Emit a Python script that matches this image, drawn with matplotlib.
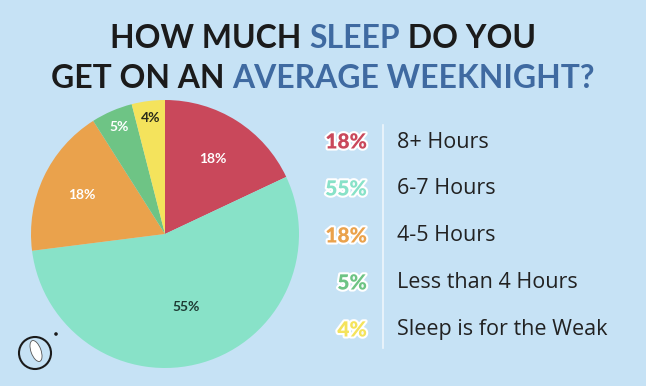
import matplotlib
matplotlib.use("Agg")
import matplotlib.pyplot as plt
import matplotlib.patheffects as pe
from matplotlib.patches import Circle, Ellipse
import numpy as np

# Data
categories = ["8+ Hours", "6-7 Hours", "4-5 Hours", "Less than 4 Hours", "Sleep is for the Weak"]
shares = [18, 55, 18, 5, 4]
colors = ["#c9485b", "#88e2c8", "#eaa24c", "#6ec485", "#f4e35c"]
inner_label_colors = ["white", "#1d3b33", "white", "white", "#2a2a1a"]
inner_label_radius = [0.66, 0.57, 0.69, 0.87, 0.87]

title_lines = [
    [("HOW MUCH ", "#1b1b1b"), ("SLEEP", "#3f6aa1"), (" DO YOU", "#1b1b1b")],
    [("GET ON AN ", "#1b1b1b"), ("AVERAGE WEEKNIGHT?", "#3f6aa1")],
]

BG = "#c6e2f5"
W, H = 646, 386
fig = plt.figure(figsize=(W / 100, H / 100), dpi=100, facecolor=BG)

# Pie
cx, cy, R = 165, 234, 134
ax = fig.add_axes([(cx - R) / W, (H - cy - R) / H, 2 * R / W, 2 * R / H])
ax.set_facecolor(BG)
wedges, _ = ax.pie(shares, colors=colors, startangle=90, counterclock=False,
                   radius=1, wedgeprops=dict(linewidth=0))
ax.set_xlim(-1, 1)
ax.set_ylim(-1, 1)
ax.axis("off")

for w, val, c, r in zip(wedges, shares, inner_label_colors, inner_label_radius):
    ang = np.deg2rad((w.theta1 + w.theta2) / 2)
    ax.text(r * np.cos(ang), r * np.sin(ang), f"{val}%", ha="center", va="center",
            color=c, fontsize=10, fontweight="bold", family="Lato")

# Title with mixed colours, sized so the second line is ~542 px wide
renderer = fig.canvas.get_renderer()
title_y = [38, 78]
tsize = 24
probe = fig.text(0, 0, "".join(s for s, _ in title_lines[1]), fontsize=tsize,
                 fontweight="bold", family="Lato")
tsize = tsize * 542 / probe.get_window_extent(renderer).width
probe.remove()
for line, y in zip(title_lines, title_y):
    pieces = []
    for s, c in line:
        t = fig.text(0, 1 - y / H, s, color=c, fontsize=tsize, fontweight="bold",
                     family="Lato", ha="left", va="center")
        pieces.append(t)
    widths = [p.get_window_extent(renderer).width for p in pieces]
    x = (W - sum(widths)) / 2
    for p, wd in zip(pieces, widths):
        p.set_x(x / W)
        x += wd

# Legend
row_y = [142, 189, 236, 283, 330]
for y, cat, val, c in zip(row_y, categories, shares, colors):
    fig.text(367 / W, 1 - y / H, f"{val}%", color=c, fontsize=15, fontweight="heavy",
             family="Lato", ha="right", va="center",
             path_effects=[pe.withStroke(linewidth=3, foreground="white")])
    fig.text(397 / W, 1 - y / H, cat, color="#222222", fontsize=15.5,
             family="Open Sans", ha="left", va="center")
fig.add_artist(plt.Line2D([383 / W, 383 / W], [1 - 125 / H, 1 - 348 / H],
                          color="#eef6fc", linewidth=1.2))

# Little logo
fig.add_artist(Circle((35, H - 353), 16, transform=None, facecolor="none",
                      edgecolor="#1b1b1b", linewidth=1.5))
fig.add_artist(Ellipse((36, H - 351), 10, 22, angle=20, transform=None,
                       facecolor="white", edgecolor="#555555", linewidth=0.6))
fig.add_artist(Circle((56, H - 334), 1.8, transform=None, facecolor="#1b1b1b"))

fig.savefig("out.png", dpi=100, facecolor=BG)
